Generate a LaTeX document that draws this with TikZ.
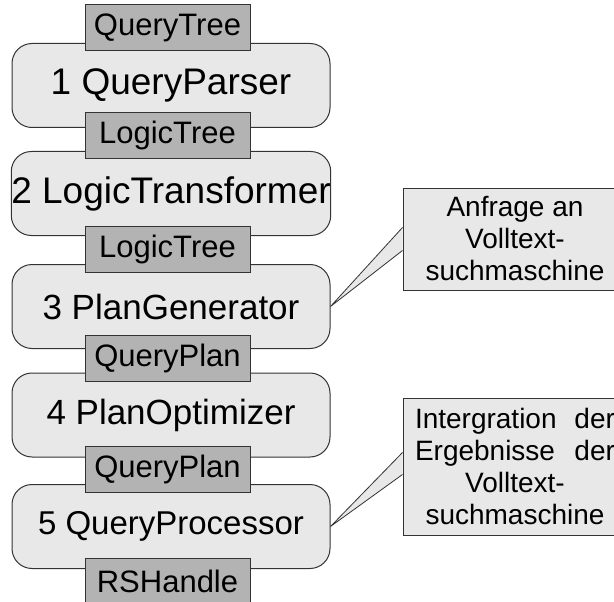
\documentclass[tikz,border=0pt]{standalone}
\usepackage{fontspec}
\setmainfont{Liberation Sans}
\usetikzlibrary{calc}
\definecolor{boxfill}{HTML}{E8E8E8}
\definecolor{tagfill}{HTML}{B3B3B3}
\definecolor{edge}{HTML}{333333}
\tikzset{
  stage/.style={draw=edge, line width=1pt, fill=boxfill, rounded corners=20pt,
    minimum width=318pt, minimum height=84pt, inner sep=0pt, text=black},
  tag/.style={draw=edge, line width=1pt, fill=tagfill, minimum width=165pt,
    minimum height=46pt, inner sep=0pt, font=\fontsize{31}{36}\selectfont},
  callout/.style={draw=edge, line width=1pt, fill=boxfill, minimum width=224pt,
    inner sep=0pt, align=center, font=\fontsize{28}{32}\selectfont},
  pointer/.style={draw=edge, line width=0.8pt, fill=boxfill, line join=miter}
}
\begin{document}
\begin{tikzpicture}[x=1pt,y=-1pt]
\clip (0,0) rectangle (614,602);
\fill[white] (0,0) rectangle (614,602);
% stages
\node[stage, font=\fontsize{37}{44}\selectfont] (b1) at (171,85.5) {1 QueryParser};
\node[stage, font=\fontsize{37}{44}\selectfont] (b2) at (171,193.5) {2 LogicTransformer};
\node[stage, font=\fontsize{35}{42}\selectfont] (b3) at (171,306.5) {3 PlanGenerator};
\node[stage, font=\fontsize{35}{42}\selectfont] (b4) at (171,415) {4 PlanOptimizer};
\node[stage, font=\fontsize{33}{40}\selectfont] (b5) at (171,526.5) {5 QueryProcessor};
% data tags
\node[tag] (t1) at (167.5,27.5) {QueryTree};
\node[tag] (t2) at (167.5,135.5) {LogicTree};
\node[tag] (t3) at (167.5,249) {LogicTree};
\node[tag] (t4) at (167.5,358) {QueryPlan};
\node[tag] (t5) at (167.5,469) {QueryPlan};
\node[tag] (t6) at (167.5,581) {RSHandle};
% callouts
\node[callout, minimum height=102pt] (c1) at (515,239) {Anfrage an\\Volltext-\\suchmaschine};
\node[callout, minimum height=137pt] (c2) at (515,466.5)
  {\makebox[200pt][s]{Intergration der}\\\makebox[200pt][s]{Ergebnisse der}\\Volltext-\\suchmaschine};
% pointers
\draw[pointer] ($(c1.north west)+(0,40)$) -- (b3.east) -- ($(c1.north west)+(0,63)$);
\draw[pointer] ($(c2.north west)+(0,55)$) -- (b5.east) -- ($(c2.north west)+(0,77)$);
\end{tikzpicture}
\end{document}
